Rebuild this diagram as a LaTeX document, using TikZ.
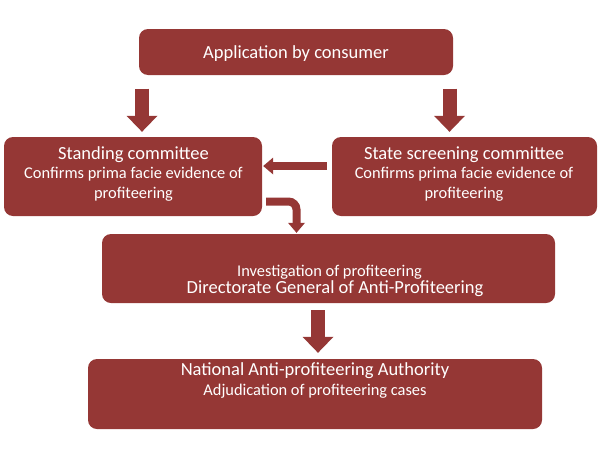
\documentclass[tikz,border=0pt]{standalone}
\usepackage{fontspec}
\setmainfont{Carlito}
\usetikzlibrary{arrows.meta}
\definecolor{brick}{HTML}{953735}
\begin{document}
\begin{tikzpicture}[x=1pt,y=-1pt,
  box/.style={fill=brick, rounded corners=9pt, inner sep=0pt},
  big/.style={text=white, inner sep=0pt, anchor=base, font=\fontsize{18.5}{20}\selectfont},
  small/.style={text=white, inner sep=0pt, anchor=base, font=\fontsize{16.4}{20}\selectfont},
  bigarrow/.style={draw=brick, line width=14pt, -{Triangle[width=31pt,length=16pt,line width=0pt]}},
  smallarrow/.style={draw=brick, line width=8pt, -{Triangle[width=17pt,length=10pt,line width=0pt]}}]
\useasboundingbox (0,0) rectangle (602,458);

% boxes
\node[box, minimum width=314pt, minimum height=46pt] (app) at (296,52) {};
\node[box, minimum width=258pt, minimum height=79pt] (stand) at (133,176.5) {};
\node[box, minimum width=265pt, minimum height=79pt] (state) at (464.5,176.5) {};
\node[box, minimum width=453pt, minimum height=69pt] (inv) at (328.5,268.5) {};
\node[box, minimum width=454pt, minimum height=70pt] (nat) at (315,394) {};

% texts
\node[big] (appt) at (296,58) {Application by consumer};
\node[big] (st1) at (133.5,159) {Standing committee};
\node[small] (st2) at (133.5,178) {Confirms prima facie evidence of};
\node[small] (st3) at (133.5,198) {profiteering};
\node[big] (ss1) at (464,159) {State screening committee};
\node[small] (ss2) at (464,178) {Confirms prima facie evidence of};
\node[small] (ss3) at (464,198) {profiteering};
\node[small] (iv1) at (329.5,276.5) {Investigation of profiteering};
\node[big] (iv2) at (335,293) {Directorate General of Anti-Profiteering};
\node[big] (na1) at (315,375) {National Anti-profiteering Authority};
\node[small] (na2) at (315,395) {Adjudication of profiteering cases};

% connectors
\coordinate (lx) at (142,0);
\coordinate (rx) at (449.5,0);
\coordinate (mx) at (318,0);
\coordinate (hy) at (0,166);
\coordinate (ey) at (0,201.5);
\coordinate (ex) at (296.5,0);

\draw[bigarrow, shorten <=13.5pt, shorten >=5pt] (lx |- app.south) -- (lx |- stand.north);
\draw[bigarrow, shorten <=13.5pt, shorten >=5pt] (rx |- app.south) -- (rx |- state.north);
\draw[smallarrow, shorten <=5pt, shorten >=1pt] (hy -| state.west) -- (hy -| stand.east);
\draw[smallarrow, rounded corners=8pt, shorten <=4pt, shorten >=1pt] (ey -| stand.east) -| (ex |- inv.north);
\draw[bigarrow, shorten <=7pt, shorten >=6pt] (mx |- inv.south) -- (mx |- nat.north);
\end{tikzpicture}
\end{document}
